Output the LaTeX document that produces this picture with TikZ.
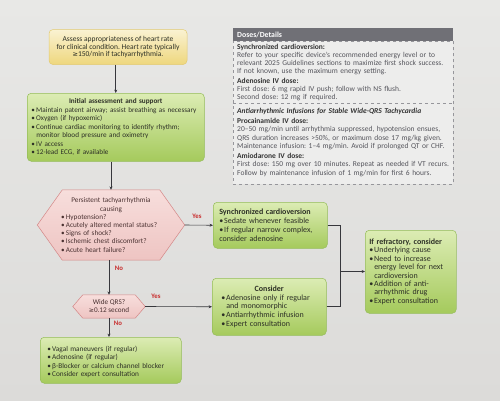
\documentclass[tikz,border=0pt]{standalone}
\usepackage{fontspec}
\setmainfont{Carlito}
\newfontfamily\symf{DejaVu Sans}
\usetikzlibrary{arrows.meta,backgrounds,calc}
\frenchspacing
\definecolor{paperA}{RGB}{232,232,230}
\definecolor{paperB}{RGB}{220,219,217}
\definecolor{gtop}{RGB}{220,236,180}
\definecolor{gbot}{RGB}{165,202,92}
\definecolor{gedge}{RGB}{148,188,88}
\definecolor{ytop}{RGB}{250,242,210}
\definecolor{ybot}{RGB}{238,215,125}
\definecolor{yedge}{RGB}{226,202,115}
\definecolor{ptop}{RGB}{247,222,220}
\definecolor{pbot}{RGB}{238,196,194}
\definecolor{pedge}{RGB}{212,135,135}
\definecolor{ink}{RGB}{45,48,38}
\definecolor{pink}{RGB}{75,50,50}
\definecolor{lineclr}{RGB}{55,55,60}
\definecolor{yesred}{RGB}{200,45,45}
\definecolor{hdr}{RGB}{112,112,118}
\definecolor{doseink}{RGB}{85,85,92}
\definecolor{dosebg}{RGB}{237,237,236}
\definecolor{doseedge}{RGB}{150,150,155}
\newcommand\bitem[1]{\par\noindent\hangindent=5pt\hangafter=1\hbox to 5pt{\textbullet\hss}#1}
\tikzset{
  gbox/.style={draw=gedge, line width=0.5pt, rounded corners=4pt, top color=gtop, bottom color=gbot,
    inner xsep=5pt, inner ysep=3pt, font=\fontsize{7.2}{8.5}\selectfont\frenchspacing, text=ink, align=left, anchor=north west},
  ybox/.style={draw=yedge, line width=0.5pt, rounded corners=4pt, top color=ytop, bottom color=ybot,
    inner sep=3pt, font=\fontsize{7.5}{7.8}\selectfont\frenchspacing, text=ink, align=center},
  hexnode/.style={inner sep=0pt, font=\fontsize{7.2}{8.2}\selectfont, text=pink, align=left},
  hexdraw/.style={draw=pedge, line width=0.5pt, top color=ptop, bottom color=pbot},
  conn/.style={draw=lineclr, line width=0.6pt},
  arr/.style={conn, -{Stealth[length=3.4pt,width=3pt]}},
  lbl/.style={font=\fontsize{6.8}{7}\selectfont\bfseries, text=yesred, inner sep=0pt},
  dtext/.style={anchor=north west, inner sep=0pt, text width=240pt, align=left,
    font=\fontsize{7.5}{8}\selectfont\frenchspacing, text=doseink},
}
\begin{document}
\begin{tikzpicture}[x=1pt,y=-1pt]
\useasboundingbox (0,0) rectangle (500,400);
\begin{scope}[on background layer]
\shade[top color=paperA, bottom color=paperB] (0,0) rectangle (500,400);
\end{scope}

% top yellow box
\node[ybox, minimum width=138pt, minimum height=35pt] (yel) at (118,47)
 {Assess appropriateness of heart rate\\for clinical condition. Heart rate typically\\{\symf\fontsize{6.5}{7}\selectfont ≥}150/min if tachyarrhythmia.};

% initial assessment
\node[gbox, minimum width=177pt, minimum height=68pt, text width=169pt, inner xsep=4pt] (init) at (27,93)
 {{\centering\textbf{Initial assessment and support}\par}
  \bitem{Maintain patent airway; assist breathing as necessary}
  \bitem{Oxygen (if hypoxemic)}
  \bitem{Continue cardiac monitoring to identify rhythm;\newline monitor blood pressure and oximetry}
  \bitem{IV access}
  \bitem{12-lead ECG, if available}};

% hexagon 1
\node[hexnode, minimum width=147pt, minimum height=70pt, text width=100pt] (h1) at (111,225)
 {{\centering Persistent tachyarrhythmia\\causing\par}
  \bitem{Hypotension?}
  \bitem{Acutely altered mental status?}
  \bitem{Signs of shock?}
  \bitem{Ischemic chest discomfort?}
  \bitem{Acute heart failure?}};
\begin{scope}[on background layer]
\draw[hexdraw] (h1.west) -- ([xshift=25pt]h1.north west) -- ([xshift=-25pt]h1.north east) -- (h1.east)
  -- ([xshift=-25pt]h1.south east) -- ([xshift=25pt]h1.south west) -- cycle;
\end{scope}

% hexagon 2
\node[hexnode, minimum width=72pt, minimum height=23pt, align=center, font=\fontsize{7.2}{8}\selectfont] (h2) at (109,306.5)
 {Wide QRS?\\{\symf\fontsize{6.2}{7}\selectfont ≥}0.12 second};
\begin{scope}[on background layer]
\draw[hexdraw] (h2.west) -- ([xshift=10pt]h2.north west) -- ([xshift=-10pt]h2.north east) -- (h2.east)
  -- ([xshift=-10pt]h2.south east) -- ([xshift=10pt]h2.south west) -- cycle;
\end{scope}

% bottom box
\node[gbox, minimum width=139pt, minimum height=46pt, text width=127pt, inner xsep=7pt,
      font=\fontsize{7.3}{8.6}\selectfont] (bot) at (40,337)
 {\bitem{Vagal maneuvers (if regular)}
  \bitem{Adenosine (if regular)}
  \bitem{β-Blocker or calcium channel blocker}
  \bitem{Consider expert consultation}};

% synchronized cardioversion
\node[gbox, minimum width=114pt, minimum height=46pt, text width=102pt, inner xsep=6pt,
      font=\fontsize{8}{8.8}\selectfont] (sync) at (213,202)
 {\textbf{Synchronized cardioversion}
  \bitem{Sedate whenever feasible}
  \bitem{If regular narrow complex,\newline consider adenosine}};

% consider
\node[gbox, minimum width=114pt, minimum height=57pt, text width=96pt, inner xsep=9pt,
      font=\fontsize{8}{8.7}\selectfont] (cons) at (212,278)
 {{\centering\textbf{Consider}\par}
  \bitem{Adenosine only if regular\newline and monomorphic}
  \bitem{Antiarrhythmic infusion}
  \bitem{Expert consultation}};

% refractory
\node[gbox, minimum width=91pt, minimum height=83pt, text width=83pt, inner xsep=4pt,
      font=\fontsize{8}{8.4}\selectfont] (refr) at (365,230)
 {\textbf{If refractory, consider}
  \bitem{Underlying cause}
  \bitem{Need to increase\newline energy level for next\newline cardioversion}
  \bitem{Addition of anti-\newline arrhythmic drug}
  \bitem{Expert consultation}};

% dose box
\node[fill=hdr, minimum width=220pt, minimum height=13pt, text width=212pt, inner xsep=4pt, inner ysep=0pt,
      anchor=north west, align=left, text=white, font=\fontsize{7.8}{8}\selectfont\bfseries] (dhead) at (233,28)
 {Doses/Details};
\node[draw=doseedge, dashed, line width=0.5pt, fill=dosebg, minimum width=220pt, minimum height=143pt,
      anchor=north west, inner sep=0pt] (dbox) at (233,41) {};
\draw[doseedge, dashed, line width=0.5pt] ([yshift=-62pt]dbox.north west) -- ([yshift=-62pt]dbox.north east);
\node[dtext] (doseA) at (237,44.5)
 {\textbf{\color{black!80}Synchronized cardioversion:}\\
  Refer to your specific device's recommended energy level or to\\
  relevant 2025 Guidelines sections to maximize first shock success.\\
  If not known, use the maximum energy setting.\\[1.5pt]
  \textbf{\color{black!80}Adenosine IV dose:}\\
  First dose: 6 mg rapid IV push; follow with NS flush.\\
  Second dose: 12 mg if required.};
\node[dtext, font=\fontsize{7.5}{8.5}\selectfont\frenchspacing] (doseB) at (237,108.5)
 {\textbf{\textit{\color{black!80}Antiarrhythmic Infusions for Stable Wide-QRS Tachycardia}}\\[0.8pt]
  \textbf{\color{black!80}Procainamide IV dose:}\\
  20--50 mg/min until arrhythmia suppressed, hypotension ensues,\\
  QRS duration increases >50\%, or maximum dose 17 mg/kg given.\\
  Maintenance infusion: 1--4 mg/min. Avoid if prolonged QT or CHF.\\[1.2pt]
  \textbf{\color{black!80}Amiodarone IV dose:}\\
  First dose: 150 mg over 10 minutes. Repeat as needed if VT recurs.\\
  Follow by maintenance infusion of 1 mg/min for first 6 hours.};

% connectors
\draw[arr] (yel.south -| init.north) -- (init.north);
\draw[arr] (init.south -| h1.north) -- (h1.north);
\draw[arr] (h1.east) -- (sync.west);
\draw[arr] (h1.south -| h2.north) -- (h2.north);
\draw[arr] (h2.east) -- (cons.west);
\draw[arr] (h2.south) -- (h2.south |- bot.north);
\coordinate (j) at (340,271.5);
\draw[conn] (sync.east) -| (j);
\draw[conn] (cons.east) -| (j);
\draw[arr] (j) -- (j -| refr.west);

% labels
\node[lbl] (yes1) at (197,216) {Yes};
\node[lbl] (no1) at (119,268) {No};
\node[lbl] (yes2) at (156,296) {Yes};
\node[lbl] (no2) at (118,323) {No};
\end{tikzpicture}
\end{document}
